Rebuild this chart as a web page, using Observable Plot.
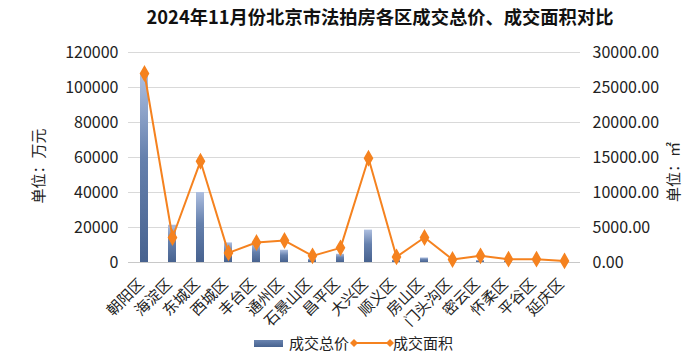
<!DOCTYPE html>
<html>
<head>
<meta charset="utf-8">
<script src="https://cdn.jsdelivr.net/npm/d3@7"></script>
<script src="https://cdn.jsdelivr.net/npm/@observablehq/plot@0.6"></script>
<style>
  html, body { margin: 0; padding: 0; background: #fff; }
  #wrap { position: relative; width: 700px; height: 364px; overflow: hidden; font-family: "Noto Sans CJK SC", "Noto Sans", sans-serif; color: #222; }
  #title { position: absolute; left: 30px; top: 4px; width: 700px; text-align: center; font-size: 18.3px; font-weight: bold; line-height: 24px; color: #111; }
  #chart { position: absolute; left: 0; top: 0; }
  .leg { position: absolute; top: 333px; font-size: 15px; line-height: 20px; }
</style>
</head>
<body>
<div id="wrap">
  <div id="chart"></div>
  <div id="title">2024年11月份北京市法拍房各区成交总价、成交面积对比</div>
  <div id="legend"></div>
</div>
<script>
const districts = ["朝阳区","海淀区","东城区","西城区","丰台区","通州区","石景山区","昌平区","大兴区","顺义区","房山区","门头沟区","密云区","怀柔区","平谷区","延庆区"];
const totalPrice = [108000, 21300, 40000, 11200, 10300, 7000, 1900, 4700, 18500, 1300, 2600, 150, 1100, 600, 200, 100];
const area = [27000, 3570, 14470, 1370, 2860, 3140, 950, 2090, 14900, 800, 3570, 430, 950, 480, 480, 230];
const leftTicks = [0, 20000, 40000, 60000, 80000, 100000, 120000];
const leftTitle = "单位：万元";
const rightTitle = "单位：㎡";
const seriesNames = ["成交总价", "成交面积"];

const k = 120000 / 30000;
const data = districts.map((d, i) => ({d, p: totalPrice[i], a: area[i] * k}));
const orange = "#f5821f";

const svg = Plot.plot({
  width: 700, height: 364,
  marginTop: 52, marginBottom: 102, marginLeft: 128, marginRight: 120,
  style: {fontFamily: '"Noto Sans CJK SC", "Noto Sans", sans-serif', fontSize: "16px", color: "#222", background: "transparent"},
  x: {domain: districts, paddingInner: 0.72, paddingOuter: 0.36, align: 0.5},
  y: {domain: [0, 120000]},
  marks: [
    Plot.gridY(leftTicks, {stroke: "#d9d9d9", strokeOpacity: 1}),
    Plot.axisY({ticks: leftTicks, tickSize: 0, tickPadding: 10, tickFormat: d => String(d), label: null, fontSize: 16}),
    Plot.axisY({anchor: "right", ticks: leftTicks, tickSize: 0, tickPadding: 12, tickFormat: d => (d / k).toFixed(2), label: null, fontSize: 16}),
    Plot.axisX({tickRotate: -45, tickSize: 0, tickPadding: 6, dx: -3, dy: 13, label: null, fontSize: 15}),
    Plot.ruleY([0], {stroke: "#c8c8c8"}),
    Plot.barY(data, {x: "d", y: "p", fill: "url(#barGrad)"}),
    Plot.line(data, {x: "d", y: "a", stroke: orange, strokeWidth: 2}),
    Plot.dot(data, {x: "d", y: "a", symbol: "diamond", r: 4.2, fill: orange, stroke: orange})
  ]
});

const s = d3.select(svg);
const grad = s.insert("defs", ":first-child").append("linearGradient")
  .attr("id", "barGrad").attr("x1", 0).attr("y1", 0).attr("x2", 0).attr("y2", 1);
grad.append("stop").attr("offset", 0).attr("stop-color", "#aebfe0");
grad.append("stop").attr("offset", 0.45).attr("stop-color", "#6580ad");
grad.append("stop").attr("offset", 1).attr("stop-color", "#47628f");

s.append("text").attr("transform", "translate(40,166) rotate(-90)")
  .attr("text-anchor", "middle").attr("dominant-baseline", "middle")
  .attr("font-size", 15).attr("fill", "#222").text(leftTitle);
s.append("text").attr("transform", "translate(675,172) rotate(-90)")
  .attr("text-anchor", "middle").attr("dominant-baseline", "middle")
  .attr("font-size", 15).attr("fill", "#222").text(rightTitle);

document.getElementById("chart").appendChild(svg);

const legend = document.getElementById("legend");
legend.innerHTML = `
  <div style="position:absolute;left:254px;top:340px;width:29px;height:7px;background:linear-gradient(#6a84b0,#47628f);"></div>
  <div class="leg" style="left:289px;">${seriesNames[0]}</div>
  <svg style="position:absolute;left:350px;top:336px" width="44" height="14">
    <line x1="4" y1="7" x2="40" y2="7" stroke="${orange}" stroke-width="2"/>
    <path d="M4,3 L8,7 L4,11 L0,7Z" fill="${orange}"/>
    <path d="M40,3 L44,7 L40,11 L36,7Z" fill="${orange}"/>
  </svg>
  <div class="leg" style="left:393px;">${seriesNames[1]}</div>`;
</script>
</body>
</html>
